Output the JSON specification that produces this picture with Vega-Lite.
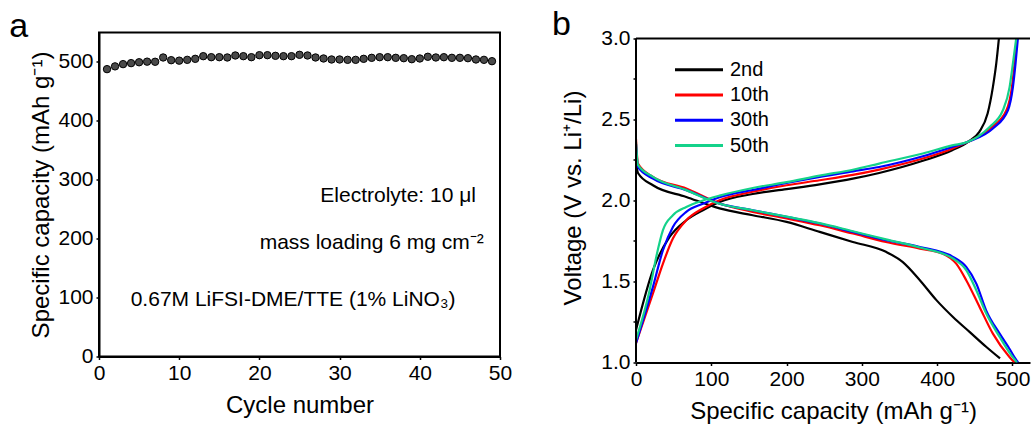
{
  "$schema": "https://vega.github.io/schema/vega-lite/v6.json",
  "padding": {"left": 8, "top": 7.5, "right": 0, "bottom": 0},
  "background": "white",
  "spacing": 39,
  "config": {
    "font": "Liberation Sans",
    "view": {"stroke": "black", "strokeWidth": 2},
    "axis": {
      "domainColor": "black", "domainWidth": 2, "tickColor": "black", "tickWidth": 1.5, "tickSize": 3,
      "labelFontSize": 21, "labelColor": "black", "labelFont": "Liberation Sans", "labelPadding": 3, "labelFlush": false,
      "titleFontSize": 24, "titleFontWeight": "normal", "titleColor": "black", "titleFont": "Liberation Sans",
      "grid": false
    },
    "title": {"fontSize": 34, "fontWeight": "normal", "font": "Liberation Sans", "anchor": "start", "frame": "group", "color": "black"}
  },
  "hconcat": [
    {
      "width": 401, "height": 324,
      "title": {"text": "a", "dx": -89.7, "offset": -11},
      "layer": [
        {
          "data": {"values": [
            {"cycle": 1, "capacity": 487.8}, {"cycle": 2, "capacity": 492.5}, {"cycle": 3, "capacity": 496.3},
            {"cycle": 4, "capacity": 498.0}, {"cycle": 5, "capacity": 499.5}, {"cycle": 6, "capacity": 500.5},
            {"cycle": 7, "capacity": 500.3}, {"cycle": 8, "capacity": 507.6}, {"cycle": 9, "capacity": 503.0},
            {"cycle": 10, "capacity": 502.2}, {"cycle": 11, "capacity": 503.6}, {"cycle": 12, "capacity": 505.3},
            {"cycle": 13, "capacity": 509.8}, {"cycle": 14, "capacity": 508.1}, {"cycle": 15, "capacity": 508.1},
            {"cycle": 16, "capacity": 507.6}, {"cycle": 17, "capacity": 511.0}, {"cycle": 18, "capacity": 509.8},
            {"cycle": 19, "capacity": 508.1}, {"cycle": 20, "capacity": 511.5}, {"cycle": 21, "capacity": 511.5},
            {"cycle": 22, "capacity": 510.4}, {"cycle": 23, "capacity": 509.8}, {"cycle": 24, "capacity": 509.8},
            {"cycle": 25, "capacity": 512.1}, {"cycle": 26, "capacity": 511.0}, {"cycle": 27, "capacity": 507.6},
            {"cycle": 28, "capacity": 505.9}, {"cycle": 29, "capacity": 504.2}, {"cycle": 30, "capacity": 504.2},
            {"cycle": 31, "capacity": 503.6}, {"cycle": 32, "capacity": 503.6}, {"cycle": 33, "capacity": 505.3},
            {"cycle": 34, "capacity": 507.0}, {"cycle": 35, "capacity": 508.1}, {"cycle": 36, "capacity": 508.1},
            {"cycle": 37, "capacity": 507.0}, {"cycle": 38, "capacity": 506.4}, {"cycle": 39, "capacity": 504.7},
            {"cycle": 40, "capacity": 505.9}, {"cycle": 41, "capacity": 508.8}, {"cycle": 42, "capacity": 507.6},
            {"cycle": 43, "capacity": 508.1}, {"cycle": 44, "capacity": 507.0}, {"cycle": 45, "capacity": 507.0},
            {"cycle": 46, "capacity": 506.4}, {"cycle": 47, "capacity": 504.2}, {"cycle": 48, "capacity": 503.6},
            {"cycle": 49, "capacity": 501.3}
          ]},
          "mark": {"type": "point", "shape": "circle", "filled": true, "size": 55, "fill": "#4a4a4a", "stroke": "#000000", "strokeWidth": 1, "opacity": 1},
          "encoding": {
            "x": {"field": "cycle", "type": "quantitative", "scale": {"domain": [0, 50], "nice": false},
                  "axis": {"values": [0, 10, 20, 30, 40, 50], "title": "Cycle number", "titlePadding": 10}},
            "y": {"field": "capacity", "type": "quantitative", "scale": {"domain": [0, 550], "nice": false, "zero": false},
                  "axis": {"values": [0, 100, 200, 300, 400, 500], "title": "Specific capacity (mAh g⁻¹)", "titlePadding": 4}}
          }
        },
        {
          "data": {"values": [
            {"cx": 37.3, "cy": 272.5, "label": "Electrolyte: 10 μl"},
            {"cx": 34.0, "cy": 193.5, "label": "mass loading 6 mg cm⁻²"},
            {"cx": 24.2, "cy": 96.0, "label": "0.67M LiFSI-DME/TTE (1% LiNO₃)"}
          ]},
          "mark": {"type": "text", "align": "center", "baseline": "middle", "fontSize": 21, "font": "Liberation Sans", "color": "black"},
          "encoding": {
            "x": {"field": "cx", "type": "quantitative"},
            "y": {"field": "cy", "type": "quantitative"},
            "text": {"field": "label", "type": "nominal"}
          }
        }
      ]
    },
    {
      "width": 394, "height": 330,
      "view": {"stroke": null},
      "title": {"text": "b", "dx": -83.9, "offset": -15},
      "layer": [
        {
          "data": {"values": [
            {"cycle": "2nd", "step": "discharge", "cap": 0, "v": 2.24}, {"cycle": "2nd", "step": "discharge", "cap": 2.6, "v": 2.17},
            {"cycle": "2nd", "step": "discharge", "cap": 22.5, "v": 2.094}, {"cycle": "2nd", "step": "discharge", "cap": 66.8, "v": 2.022},
            {"cycle": "2nd", "step": "discharge", "cap": 111, "v": 1.951}, {"cycle": "2nd", "step": "discharge", "cap": 155, "v": 1.909},
            {"cycle": "2nd", "step": "discharge", "cap": 200, "v": 1.868}, {"cycle": "2nd", "step": "discharge", "cap": 244, "v": 1.806},
            {"cycle": "2nd", "step": "discharge", "cap": 288, "v": 1.744}, {"cycle": "2nd", "step": "discharge", "cap": 332, "v": 1.683},
            {"cycle": "2nd", "step": "discharge", "cap": 354, "v": 1.621}, {"cycle": "2nd", "step": "discharge", "cap": 377, "v": 1.508},
            {"cycle": "2nd", "step": "discharge", "cap": 399, "v": 1.385}, {"cycle": "2nd", "step": "discharge", "cap": 421, "v": 1.281},
            {"cycle": "2nd", "step": "discharge", "cap": 443, "v": 1.189}, {"cycle": "2nd", "step": "discharge", "cap": 465, "v": 1.097},
            {"cycle": "2nd", "step": "discharge", "cap": 483.5, "v": 1.025},

            {"cycle": "2nd", "step": "charge", "cap": 0, "v": 1.2}, {"cycle": "2nd", "step": "charge", "cap": 22.5, "v": 1.57},
            {"cycle": "2nd", "step": "charge", "cap": 44.6, "v": 1.775}, {"cycle": "2nd", "step": "charge", "cap": 66.8, "v": 1.878},
            {"cycle": "2nd", "step": "charge", "cap": 88.9, "v": 1.94}, {"cycle": "2nd", "step": "charge", "cap": 111, "v": 1.991},
            {"cycle": "2nd", "step": "charge", "cap": 155, "v": 2.04}, {"cycle": "2nd", "step": "charge", "cap": 200, "v": 2.07},
            {"cycle": "2nd", "step": "charge", "cap": 244, "v": 2.1}, {"cycle": "2nd", "step": "charge", "cap": 288, "v": 2.135},
            {"cycle": "2nd", "step": "charge", "cap": 323, "v": 2.17}, {"cycle": "2nd", "step": "charge", "cap": 381, "v": 2.245},
            {"cycle": "2nd", "step": "charge", "cap": 420, "v": 2.31}, {"cycle": "2nd", "step": "charge", "cap": 441, "v": 2.362},
            {"cycle": "2nd", "step": "charge", "cap": 456, "v": 2.424}, {"cycle": "2nd", "step": "charge", "cap": 467, "v": 2.537},
            {"cycle": "2nd", "step": "charge", "cap": 474, "v": 2.7}, {"cycle": "2nd", "step": "charge", "cap": 478.5, "v": 2.846},
            {"cycle": "2nd", "step": "charge", "cap": 482, "v": 3.0},

            {"cycle": "10th", "step": "discharge", "cap": 0, "v": 2.38}, {"cycle": "10th", "step": "discharge", "cap": 2.6, "v": 2.228},
            {"cycle": "10th", "step": "discharge", "cap": 22.5, "v": 2.146}, {"cycle": "10th", "step": "discharge", "cap": 66.8, "v": 2.074},
            {"cycle": "10th", "step": "discharge", "cap": 111, "v": 1.981}, {"cycle": "10th", "step": "discharge", "cap": 155, "v": 1.93},
            {"cycle": "10th", "step": "discharge", "cap": 200, "v": 1.889}, {"cycle": "10th", "step": "discharge", "cap": 244, "v": 1.847},
            {"cycle": "10th", "step": "discharge", "cap": 288, "v": 1.796}, {"cycle": "10th", "step": "discharge", "cap": 332, "v": 1.744},
            {"cycle": "10th", "step": "discharge", "cap": 377, "v": 1.703}, {"cycle": "10th", "step": "discharge", "cap": 407.6, "v": 1.672},
            {"cycle": "10th", "step": "discharge", "cap": 425.3, "v": 1.61}, {"cycle": "10th", "step": "discharge", "cap": 438.6, "v": 1.508},
            {"cycle": "10th", "step": "discharge", "cap": 456.3, "v": 1.343}, {"cycle": "10th", "step": "discharge", "cap": 474, "v": 1.178},
            {"cycle": "10th", "step": "discharge", "cap": 496, "v": 1.034}, {"cycle": "10th", "step": "discharge", "cap": 502.8, "v": 1.0},

            {"cycle": "10th", "step": "charge", "cap": 0, "v": 1.12}, {"cycle": "10th", "step": "charge", "cap": 22.5, "v": 1.426},
            {"cycle": "10th", "step": "charge", "cap": 35.8, "v": 1.611}, {"cycle": "10th", "step": "charge", "cap": 49, "v": 1.765},
            {"cycle": "10th", "step": "charge", "cap": 66.8, "v": 1.878}, {"cycle": "10th", "step": "charge", "cap": 88.9, "v": 1.951},
            {"cycle": "10th", "step": "charge", "cap": 111, "v": 2.002}, {"cycle": "10th", "step": "charge", "cap": 155, "v": 2.054},
            {"cycle": "10th", "step": "charge", "cap": 200, "v": 2.094}, {"cycle": "10th", "step": "charge", "cap": 244, "v": 2.125},
            {"cycle": "10th", "step": "charge", "cap": 288, "v": 2.158}, {"cycle": "10th", "step": "charge", "cap": 323, "v": 2.191},
            {"cycle": "10th", "step": "charge", "cap": 381, "v": 2.259}, {"cycle": "10th", "step": "charge", "cap": 420, "v": 2.32},
            {"cycle": "10th", "step": "charge", "cap": 441, "v": 2.362}, {"cycle": "10th", "step": "charge", "cap": 472, "v": 2.45},
            {"cycle": "10th", "step": "charge", "cap": 492, "v": 2.557}, {"cycle": "10th", "step": "charge", "cap": 499.3, "v": 2.7},
            {"cycle": "10th", "step": "charge", "cap": 502.8, "v": 2.846}, {"cycle": "10th", "step": "charge", "cap": 506, "v": 3.0},

            {"cycle": "30th", "step": "discharge", "cap": 0, "v": 2.35}, {"cycle": "30th", "step": "discharge", "cap": 2.6, "v": 2.207},
            {"cycle": "30th", "step": "discharge", "cap": 22.5, "v": 2.135}, {"cycle": "30th", "step": "discharge", "cap": 66.8, "v": 2.064},
            {"cycle": "30th", "step": "discharge", "cap": 111, "v": 1.981}, {"cycle": "30th", "step": "discharge", "cap": 155, "v": 1.94},
            {"cycle": "30th", "step": "discharge", "cap": 200, "v": 1.899}, {"cycle": "30th", "step": "discharge", "cap": 244, "v": 1.858},
            {"cycle": "30th", "step": "discharge", "cap": 288, "v": 1.806}, {"cycle": "30th", "step": "discharge", "cap": 332, "v": 1.755},
            {"cycle": "30th", "step": "discharge", "cap": 377, "v": 1.713}, {"cycle": "30th", "step": "discharge", "cap": 421, "v": 1.652},
            {"cycle": "30th", "step": "discharge", "cap": 438.6, "v": 1.59}, {"cycle": "30th", "step": "discharge", "cap": 452, "v": 1.487},
            {"cycle": "30th", "step": "discharge", "cap": 465, "v": 1.322}, {"cycle": "30th", "step": "discharge", "cap": 483, "v": 1.178},
            {"cycle": "30th", "step": "discharge", "cap": 496, "v": 1.085}, {"cycle": "30th", "step": "discharge", "cap": 503, "v": 1.03},
            {"cycle": "30th", "step": "discharge", "cap": 507.5, "v": 1.0},

            {"cycle": "30th", "step": "charge", "cap": 0, "v": 1.12}, {"cycle": "30th", "step": "charge", "cap": 22.5, "v": 1.467},
            {"cycle": "30th", "step": "charge", "cap": 35.8, "v": 1.693}, {"cycle": "30th", "step": "charge", "cap": 49, "v": 1.837},
            {"cycle": "30th", "step": "charge", "cap": 66.8, "v": 1.93}, {"cycle": "30th", "step": "charge", "cap": 88.9, "v": 1.98},
            {"cycle": "30th", "step": "charge", "cap": 111, "v": 2.02}, {"cycle": "30th", "step": "charge", "cap": 155, "v": 2.065},
            {"cycle": "30th", "step": "charge", "cap": 200, "v": 2.108}, {"cycle": "30th", "step": "charge", "cap": 244, "v": 2.146},
            {"cycle": "30th", "step": "charge", "cap": 288, "v": 2.18}, {"cycle": "30th", "step": "charge", "cap": 323, "v": 2.207},
            {"cycle": "30th", "step": "charge", "cap": 381, "v": 2.273}, {"cycle": "30th", "step": "charge", "cap": 420, "v": 2.33},
            {"cycle": "30th", "step": "charge", "cap": 441, "v": 2.362}, {"cycle": "30th", "step": "charge", "cap": 474, "v": 2.444},
            {"cycle": "30th", "step": "charge", "cap": 494, "v": 2.557}, {"cycle": "30th", "step": "charge", "cap": 500.6, "v": 2.7},
            {"cycle": "30th", "step": "charge", "cap": 504.1, "v": 2.846}, {"cycle": "30th", "step": "charge", "cap": 507.2, "v": 3.0},

            {"cycle": "50th", "step": "discharge", "cap": 0, "v": 2.36}, {"cycle": "50th", "step": "discharge", "cap": 2.6, "v": 2.22},
            {"cycle": "50th", "step": "discharge", "cap": 22.5, "v": 2.146}, {"cycle": "50th", "step": "discharge", "cap": 66.8, "v": 2.064},
            {"cycle": "50th", "step": "discharge", "cap": 111, "v": 1.98}, {"cycle": "50th", "step": "discharge", "cap": 155, "v": 1.94},
            {"cycle": "50th", "step": "discharge", "cap": 200, "v": 1.9}, {"cycle": "50th", "step": "discharge", "cap": 244, "v": 1.86},
            {"cycle": "50th", "step": "discharge", "cap": 288, "v": 1.81}, {"cycle": "50th", "step": "discharge", "cap": 332, "v": 1.76},
            {"cycle": "50th", "step": "discharge", "cap": 377, "v": 1.71}, {"cycle": "50th", "step": "discharge", "cap": 421, "v": 1.642},
            {"cycle": "50th", "step": "discharge", "cap": 438.6, "v": 1.57}, {"cycle": "50th", "step": "discharge", "cap": 452, "v": 1.446},
            {"cycle": "50th", "step": "discharge", "cap": 465.2, "v": 1.302}, {"cycle": "50th", "step": "discharge", "cap": 483, "v": 1.158},
            {"cycle": "50th", "step": "discharge", "cap": 498.4, "v": 1.045}, {"cycle": "50th", "step": "discharge", "cap": 506, "v": 1.0},

            {"cycle": "50th", "step": "charge", "cap": 0, "v": 1.14}, {"cycle": "50th", "step": "charge", "cap": 18.1, "v": 1.446},
            {"cycle": "50th", "step": "charge", "cap": 26.9, "v": 1.652}, {"cycle": "50th", "step": "charge", "cap": 35.8, "v": 1.817},
            {"cycle": "50th", "step": "charge", "cap": 49, "v": 1.909}, {"cycle": "50th", "step": "charge", "cap": 66.8, "v": 1.96},
            {"cycle": "50th", "step": "charge", "cap": 88.9, "v": 2.0}, {"cycle": "50th", "step": "charge", "cap": 111, "v": 2.03},
            {"cycle": "50th", "step": "charge", "cap": 155, "v": 2.077}, {"cycle": "50th", "step": "charge", "cap": 200, "v": 2.113},
            {"cycle": "50th", "step": "charge", "cap": 244, "v": 2.154}, {"cycle": "50th", "step": "charge", "cap": 288, "v": 2.19},
            {"cycle": "50th", "step": "charge", "cap": 323, "v": 2.228}, {"cycle": "50th", "step": "charge", "cap": 381, "v": 2.29},
            {"cycle": "50th", "step": "charge", "cap": 420, "v": 2.34}, {"cycle": "50th", "step": "charge", "cap": 441, "v": 2.362},
            {"cycle": "50th", "step": "charge", "cap": 469.6, "v": 2.454}, {"cycle": "50th", "step": "charge", "cap": 487.3, "v": 2.557},
            {"cycle": "50th", "step": "charge", "cap": 496.2, "v": 2.7}, {"cycle": "50th", "step": "charge", "cap": 500.6, "v": 2.846},
            {"cycle": "50th", "step": "charge", "cap": 505, "v": 3.0}
          ]},
          "mark": {"type": "line", "strokeWidth": 2.2, "clip": true, "interpolate": "monotone"},
          "encoding": {
            "x": {"field": "cap", "type": "quantitative", "scale": {"domain": [0, 523.3], "nice": false},
                  "axis": {"values": [0, 100, 200, 300, 400, 500], "title": "Specific capacity (mAh g⁻¹)", "titlePadding": 10}},
            "y": {"field": "v", "type": "quantitative", "scale": {"domain": [1, 3.037], "nice": false, "zero": false},
                  "axis": {"values": [1, 1.25, 1.5, 1.75, 2, 2.25, 2.5, 2.75, 3], "domain": false, "labelExpr": "datum.value * 4 % 2 == 0 ? format(datum.value, '.1f') : ''", "title": "Voltage (V vs. Li⁺/Li)", "titlePadding": 15}},
            "color": {"field": "cycle", "type": "nominal",
                      "scale": {"domain": ["2nd", "10th", "30th", "50th"], "range": ["#000000", "#ff0000", "#0000ff", "#14d28a"]},
                      "legend": {"orient": "none", "legendX": 590, "legendY": 27.2, "title": null, "symbolType": "M-4,0H4", "symbolSize": 144, "symbolStrokeWidth": 3, "labelFontSize": 20, "labelFont": "Liberation Sans", "labelColor": "black", "rowPadding": 5.3, "labelOffset": 21}},
            "detail": {"field": "step", "type": "nominal"}
          }
        },
        {
          "data": {"values": [{}]},
          "mark": {"type": "rule", "color": "black", "strokeWidth": 2},
          "encoding": {"y": {"datum": 3}}
        },
        {
          "data": {"values": [{}]},
          "mark": {"type": "rule", "color": "black", "strokeWidth": 2},
          "encoding": {"x": {"datum": 0}, "y": {"datum": 1}, "y2": {"datum": 3}}
        }
      ]
    }
  ]
}
